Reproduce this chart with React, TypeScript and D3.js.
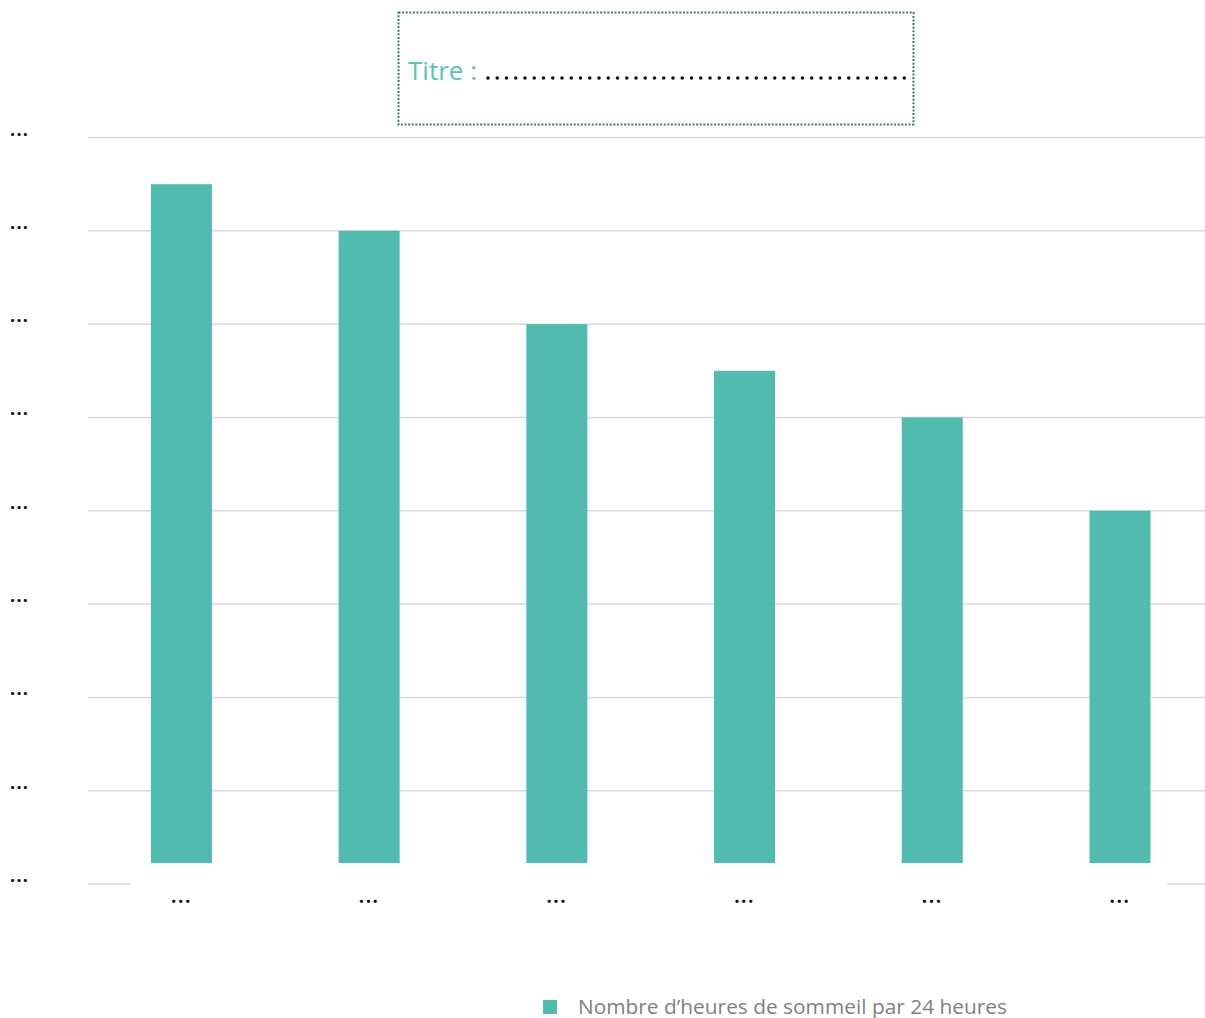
import React from "react";
import * as d3 from "d3";

const categories = ["c1", "c2", "c3", "c4", "c5", "c6"];
const categoryLabels = ["...", "...", "...", "...", "...", "..."];
const sleepHours = [15, 14, 12, 11, 10, 8];
const yTicks = [0, 2, 4, 6, 8, 10, 12, 14, 16];
const yTickLabels = ["...", "...", "...", "...", "...", "...", "...", "...", "..."];
const seriesName = "Nombre d’heures de sommeil par 24 heures";
const titleText = "Titre :";

const W = 1205;
const H = 1018;
const TEAL = "#52BBB0";

export default function App() {
  const x = d3.scaleBand<string>().domain(categories).range([87.6, 1213.8]).paddingInner(0.675).paddingOuter(0.3375);
  const y = d3.scaleLinear().domain([0, 16]).range([884, 137.5]);
  const bw = x.bandwidth();

  return (
    <svg
      width={W}
      height={H}
      style={{ position: "absolute", left: 0, top: 0, background: "#fff" }}
      fontFamily="'Open Sans', sans-serif"
    >
      {/* gridlines */}
      {yTicks.map((t, i) => (
        <line key={"g" + i} x1={88} x2={1205} y1={y(t)} y2={y(t)} stroke="#d9d9d9" strokeWidth={1.5} />
      ))}
      {/* bars */}
      {sleepHours.map((v, i) => (
        <rect key={"b" + i} x={x(categories[i])} y={y(v)} width={bw} height={y(0) - y(v)} fill={TEAL} />
      ))}
      {/* white box holding category labels */}
      <rect x={131} y={863} width={1036} height={50} fill="#fff" />
      {categoryLabels.map((c, i) => (
        <text
          key={"x" + i}
          x={(x(categories[i]) as number) + bw / 2}
          y={903}
          textAnchor="middle"
          fontSize={19}
          fontWeight="bold"
          letterSpacing={1.5}
          fill="#111"
        >
          {c}
        </text>
      ))}
      {/* y labels */}
      {yTicks.map((t, i) => (
        <text key={"y" + i} x={10} y={y(t) - 2} fontSize={18} fontWeight="bold" letterSpacing={1.3} fill="#111">
          {yTickLabels[i]}
        </text>
      ))}
      {/* title box */}
      <rect
        x={398.5}
        y={12.5}
        width={515}
        height={112}
        fill="#fff"
        stroke="#2F7F6F"
        strokeWidth={2}
        strokeDasharray="2 1.6"
      />
      <text x={408} y={80} fontSize={25} fill="#5CC2B6" textLength={69} lengthAdjust="spacingAndGlyphs">
        {titleText}
      </text>
      <line
        x1={488}
        x2={907}
        y1={78}
        y2={78}
        stroke="#111"
        strokeWidth={3.6}
        strokeLinecap="round"
        strokeDasharray="0 9.25"
      />
      {/* legend */}
      <rect x={543} y={1000} width={14} height={14} fill={TEAL} />
      <text x={578} y={1013.5} fontSize={20} fill="#7f7f7f" textLength={429} lengthAdjust="spacingAndGlyphs">
        {seriesName}
      </text>
    </svg>
  );
}
